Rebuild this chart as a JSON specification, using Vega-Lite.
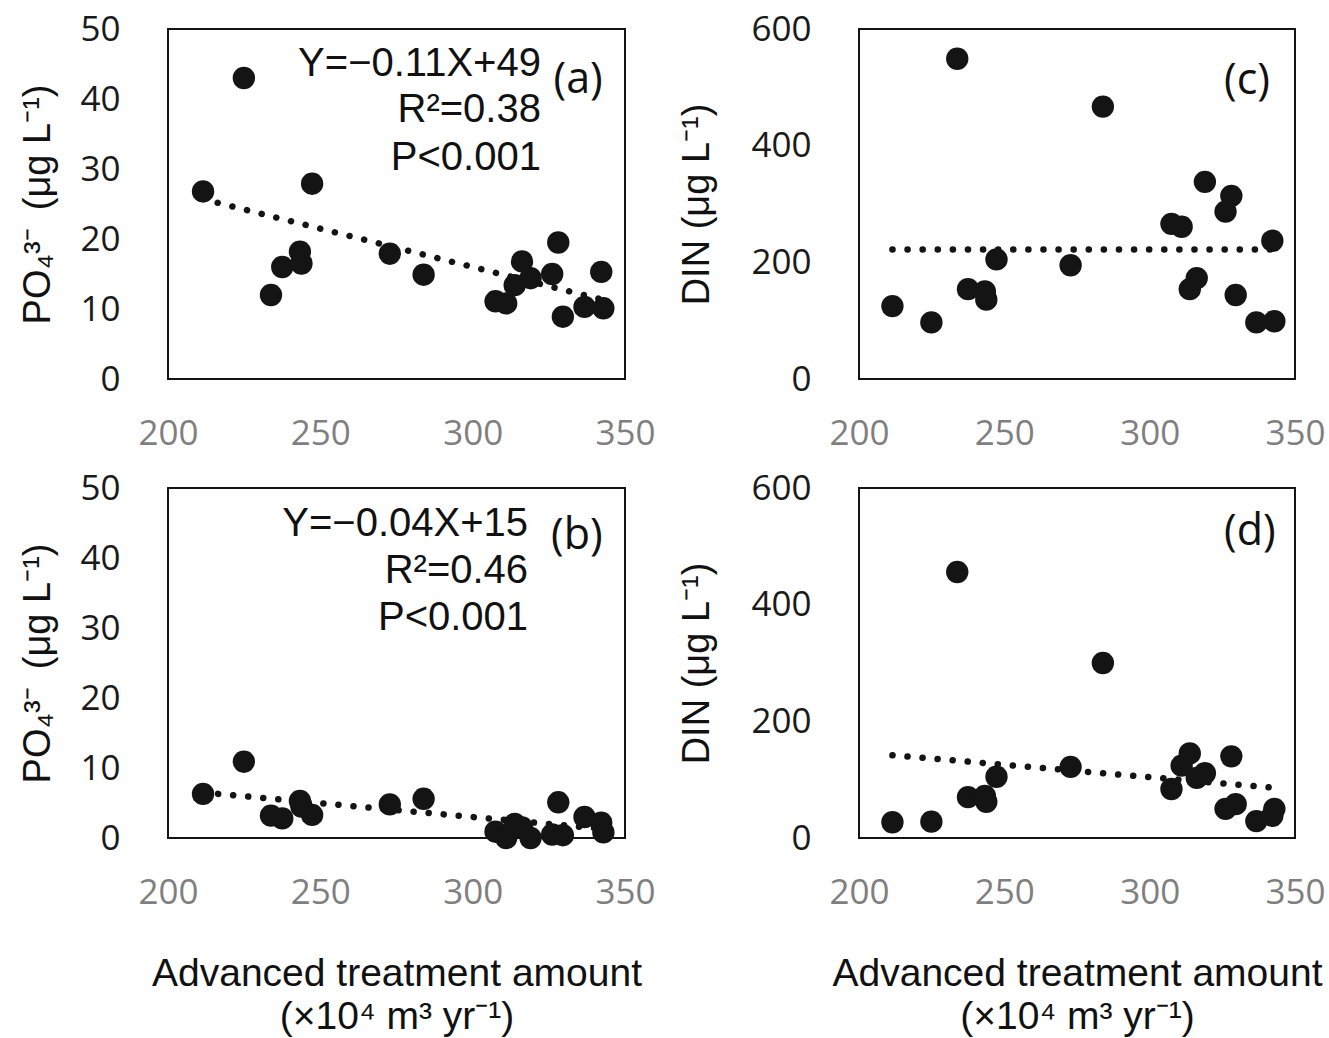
{
  "$schema": "https://vega.github.io/schema/vega-lite/v6.json",
  "background": "white",
  "padding": {"left": 18, "top": 11, "right": 5, "bottom": 5},
  "datasets": {
    "obs": [
      {"amount": 211.5, "PO4_a": 26.8, "DIN_c": 125, "PO4_b": 6.3, "DIN_d": 27},
      {"amount": 224.9, "PO4_a": 43.0, "DIN_c": 97, "PO4_b": 10.9, "DIN_d": 28},
      {"amount": 233.8, "PO4_a": 12.0, "DIN_c": 549, "PO4_b": 3.2, "DIN_d": 456},
      {"amount": 237.5, "PO4_a": 16.0, "DIN_c": 154, "PO4_b": 2.8, "DIN_d": 70},
      {"amount": 243.3, "PO4_a": 18.2, "DIN_c": 150, "PO4_b": 5.3, "DIN_d": 72},
      {"amount": 243.8, "PO4_a": 16.5, "DIN_c": 136, "PO4_b": 4.5, "DIN_d": 62},
      {"amount": 247.3, "PO4_a": 27.9, "DIN_c": 205, "PO4_b": 3.3, "DIN_d": 105},
      {"amount": 272.8, "PO4_a": 17.9, "DIN_c": 195, "PO4_b": 4.8, "DIN_d": 122},
      {"amount": 283.9, "PO4_a": 14.9, "DIN_c": 467, "PO4_b": 5.6, "DIN_d": 300},
      {"amount": 307.5, "PO4_a": 11.1, "DIN_c": 266, "PO4_b": 0.9, "DIN_d": 84},
      {"amount": 311.0, "PO4_a": 10.8, "DIN_c": 261, "PO4_b": 0.0, "DIN_d": 124},
      {"amount": 313.8, "PO4_a": 13.4, "DIN_c": 154, "PO4_b": 2.0, "DIN_d": 145},
      {"amount": 316.2, "PO4_a": 16.8, "DIN_c": 173, "PO4_b": 1.5, "DIN_d": 103},
      {"amount": 319.0, "PO4_a": 14.4, "DIN_c": 338, "PO4_b": 0.0, "DIN_d": 111},
      {"amount": 326.1, "PO4_a": 15.0, "DIN_c": 287, "PO4_b": 0.5, "DIN_d": 50},
      {"amount": 328.1, "PO4_a": 19.5, "DIN_c": 314, "PO4_b": 5.1, "DIN_d": 140},
      {"amount": 329.6, "PO4_a": 8.9, "DIN_c": 144, "PO4_b": 0.4, "DIN_d": 58},
      {"amount": 336.7, "PO4_a": 10.3, "DIN_c": 97, "PO4_b": 3.0, "DIN_d": 29},
      {"amount": 342.2, "PO4_a": 15.3, "DIN_c": 237, "PO4_b": 2.2, "DIN_d": 38},
      {"amount": 342.9, "PO4_a": 10.1, "DIN_c": 99, "PO4_b": 0.8, "DIN_d": 50}
    ],
    "trend": [
      {"panel": "a", "amount": 211.5, "fit": 25.7},
      {"panel": "a", "amount": 342.9, "fit": 11.3},
      {"panel": "b", "amount": 211.5, "fit": 6.5},
      {"panel": "b", "amount": 342.9, "fit": 1.3},
      {"panel": "c", "amount": 211.5, "fit": 222},
      {"panel": "c", "amount": 342.9, "fit": 222},
      {"panel": "d", "amount": 211.5, "fit": 142},
      {"panel": "d", "amount": 342.9, "fit": 86}
    ],
    "notes": [
      {"panel": "a", "kind": "eq", "amount": 322.4, "value": 45.0, "label": "Y=−0.11X+49"},
      {"panel": "a", "kind": "eq", "amount": 322.4, "value": 38.4, "label": "R²=0.38"},
      {"panel": "a", "kind": "eq", "amount": 322.4, "value": 31.6, "label": "P<0.001"},
      {"panel": "a", "kind": "tag", "amount": 334.6, "value": 42.7, "label": "(a)"},
      {"panel": "b", "kind": "eq", "amount": 318.2, "value": 44.9, "label": "Y=−0.04X+15"},
      {"panel": "b", "kind": "eq", "amount": 318.2, "value": 38.2, "label": "R²=0.46"},
      {"panel": "b", "kind": "eq", "amount": 318.2, "value": 31.4, "label": "P<0.001"},
      {"panel": "b", "kind": "tag", "amount": 334.2, "value": 43.1, "label": "(b)"},
      {"panel": "c", "kind": "tag", "amount": 333.5, "value": 511, "label": "(c)"},
      {"panel": "d", "kind": "tag", "amount": 334.5, "value": 525, "label": "(d)"}
    ]
  },
  "columns": 2,
  "spacing": {"row": 109, "column": 234},
  "bounds": "flush",
  "concat": [
    {
      "width": 457, "height": 350,
      "layer": [
        {"data": {"name": "obs"},
         "mark": {"type": "circle", "size": 500, "opacity": 1, "color": "#141414"},
         "encoding": {
           "x": {"field": "amount", "type": "quantitative", "scale": {"domain": [200, 350], "nice": false, "zero": false}, "axis": {"values": [200, 250, 300, 350]}, "title": null},
           "y": {"field": "PO4_a", "type": "quantitative", "scale": {"domain": [0, 50], "nice": false}, "axis": {"values": [0, 10, 20, 30, 40, 50]}, "title": "PO₄³⁻\u2009 (μg L⁻¹)"}}},
        {"data": {"name": "trend"}, "transform": [{"filter": "datum.panel === 'a'"}],
         "mark": {"type": "line", "strokeDash": [0.1, 15], "strokeCap": "round", "strokeWidth": 6.5, "color": "#141414"},
         "encoding": {"x": {"field": "amount", "type": "quantitative", "title": null}, "y": {"field": "fit", "type": "quantitative", "title": "PO₄³⁻\u2009 (μg L⁻¹)"}}},
        {"data": {"name": "notes"}, "transform": [{"filter": "datum.panel === 'a' && datum.kind === 'eq'"}],
         "mark": {"type": "text", "align": "right", "baseline": "middle", "font": "Liberation Sans", "fontSize": 40, "color": "#111111"},
         "encoding": {"x": {"field": "amount", "type": "quantitative", "title": null}, "y": {"field": "value", "type": "quantitative", "title": "PO₄³⁻\u2009 (μg L⁻¹)"}, "text": {"field": "label"}}},
        {"data": {"name": "notes"}, "transform": [{"filter": "datum.panel === 'a' && datum.kind === 'tag'"}],
         "mark": {"type": "text", "align": "center", "baseline": "middle", "font": "Open Sans", "fontSize": 43, "color": "#111111"},
         "encoding": {"x": {"field": "amount", "type": "quantitative", "title": null}, "y": {"field": "value", "type": "quantitative", "title": "PO₄³⁻\u2009 (μg L⁻¹)"}, "text": {"field": "label"}}}
      ]
    },
    {
      "width": 436, "height": 350,
      "layer": [
        {"data": {"name": "obs"},
         "mark": {"type": "circle", "size": 500, "opacity": 1, "color": "#141414"},
         "encoding": {
           "x": {"field": "amount", "type": "quantitative", "scale": {"domain": [200, 350], "nice": false, "zero": false}, "axis": {"values": [200, 250, 300, 350]}, "title": null},
           "y": {"field": "DIN_c", "type": "quantitative", "scale": {"domain": [0, 600], "nice": false}, "axis": {"values": [0, 200, 400, 600], "titlePadding": 34}, "title": "DIN (μg L⁻¹)"}}},
        {"data": {"name": "trend"}, "transform": [{"filter": "datum.panel === 'c'"}],
         "mark": {"type": "line", "strokeDash": [0.1, 15], "strokeCap": "round", "strokeWidth": 6.5, "color": "#141414"},
         "encoding": {"x": {"field": "amount", "type": "quantitative", "title": null}, "y": {"field": "fit", "type": "quantitative", "title": "DIN (μg L⁻¹)"}}},
        {"data": {"name": "notes"}, "transform": [{"filter": "datum.panel === 'c' && datum.kind === 'tag'"}],
         "mark": {"type": "text", "align": "center", "baseline": "middle", "font": "Open Sans", "fontSize": 43, "color": "#111111"},
         "encoding": {"x": {"field": "amount", "type": "quantitative", "title": null}, "y": {"field": "value", "type": "quantitative", "title": "DIN (μg L⁻¹)"}, "text": {"field": "label"}}}
      ]
    },
    {
      "width": 457, "height": 350,
      "layer": [
        {"data": {"name": "obs"},
         "mark": {"type": "circle", "size": 500, "opacity": 1, "color": "#141414"},
         "encoding": {
           "x": {"field": "amount", "type": "quantitative", "scale": {"domain": [200, 350], "nice": false, "zero": false}, "axis": {"values": [200, 250, 300, 350]}, "title": ["Advanced treatment amount", "(×10⁴ m³ yr⁻¹)"]},
           "y": {"field": "PO4_b", "type": "quantitative", "scale": {"domain": [0, 50], "nice": false}, "axis": {"values": [0, 10, 20, 30, 40, 50]}, "title": "PO₄³⁻\u2009 (μg L⁻¹)"}}},
        {"data": {"name": "trend"}, "transform": [{"filter": "datum.panel === 'b'"}],
         "mark": {"type": "line", "strokeDash": [0.1, 15], "strokeCap": "round", "strokeWidth": 6.5, "color": "#141414"},
         "encoding": {"x": {"field": "amount", "type": "quantitative", "title": ["Advanced treatment amount", "(×10⁴ m³ yr⁻¹)"]}, "y": {"field": "fit", "type": "quantitative", "title": "PO₄³⁻\u2009 (μg L⁻¹)"}}},
        {"data": {"name": "notes"}, "transform": [{"filter": "datum.panel === 'b' && datum.kind === 'eq'"}],
         "mark": {"type": "text", "align": "right", "baseline": "middle", "font": "Liberation Sans", "fontSize": 40, "color": "#111111"},
         "encoding": {"x": {"field": "amount", "type": "quantitative", "title": ["Advanced treatment amount", "(×10⁴ m³ yr⁻¹)"]}, "y": {"field": "value", "type": "quantitative", "title": "PO₄³⁻\u2009 (μg L⁻¹)"}, "text": {"field": "label"}}},
        {"data": {"name": "notes"}, "transform": [{"filter": "datum.panel === 'b' && datum.kind === 'tag'"}],
         "mark": {"type": "text", "align": "center", "baseline": "middle", "font": "Open Sans", "fontSize": 43, "color": "#111111"},
         "encoding": {"x": {"field": "amount", "type": "quantitative", "title": ["Advanced treatment amount", "(×10⁴ m³ yr⁻¹)"]}, "y": {"field": "value", "type": "quantitative", "title": "PO₄³⁻\u2009 (μg L⁻¹)"}, "text": {"field": "label"}}}
      ]
    },
    {
      "width": 436, "height": 350,
      "layer": [
        {"data": {"name": "obs"},
         "mark": {"type": "circle", "size": 500, "opacity": 1, "color": "#141414"},
         "encoding": {
           "x": {"field": "amount", "type": "quantitative", "scale": {"domain": [200, 350], "nice": false, "zero": false}, "axis": {"values": [200, 250, 300, 350]}, "title": ["Advanced treatment amount", "(×10⁴ m³ yr⁻¹)"]},
           "y": {"field": "DIN_d", "type": "quantitative", "scale": {"domain": [0, 600], "nice": false}, "axis": {"values": [0, 200, 400, 600], "titlePadding": 34}, "title": "DIN (μg L⁻¹)"}}},
        {"data": {"name": "trend"}, "transform": [{"filter": "datum.panel === 'd'"}],
         "mark": {"type": "line", "strokeDash": [0.1, 15], "strokeCap": "round", "strokeWidth": 6.5, "color": "#141414"},
         "encoding": {"x": {"field": "amount", "type": "quantitative", "title": ["Advanced treatment amount", "(×10⁴ m³ yr⁻¹)"]}, "y": {"field": "fit", "type": "quantitative", "title": "DIN (μg L⁻¹)"}}},
        {"data": {"name": "notes"}, "transform": [{"filter": "datum.panel === 'd' && datum.kind === 'tag'"}],
         "mark": {"type": "text", "align": "center", "baseline": "middle", "font": "Open Sans", "fontSize": 43, "color": "#111111"},
         "encoding": {"x": {"field": "amount", "type": "quantitative", "title": ["Advanced treatment amount", "(×10⁴ m³ yr⁻¹)"]}, "y": {"field": "value", "type": "quantitative", "title": "DIN (μg L⁻¹)"}, "text": {"field": "label"}}}
      ]
    }
  ],
  "config": {
    "view": {"stroke": "#141414", "strokeWidth": 2},
    "axis": {"grid": false, "ticks": false, "tickSize": 0, "domain": false, "labelOverlap": false, "labelFlush": false, "labelBound": false, "labelFont": "Open Sans", "labelFontSize": 35, "titleFont": "Liberation Sans", "titleFontSize": 38, "titleFontWeight": "normal", "titleColor": "#111111"},
    "axisX": {"labelColor": "#7f7f7f", "labelPadding": 37, "titlePadding": 44, "titleLineHeight": 43, "titleFontSize": 39},
    "axisY": {"labelColor": "#1a1a1a", "labelPadding": 48, "titlePadding": 22}
  }
}
